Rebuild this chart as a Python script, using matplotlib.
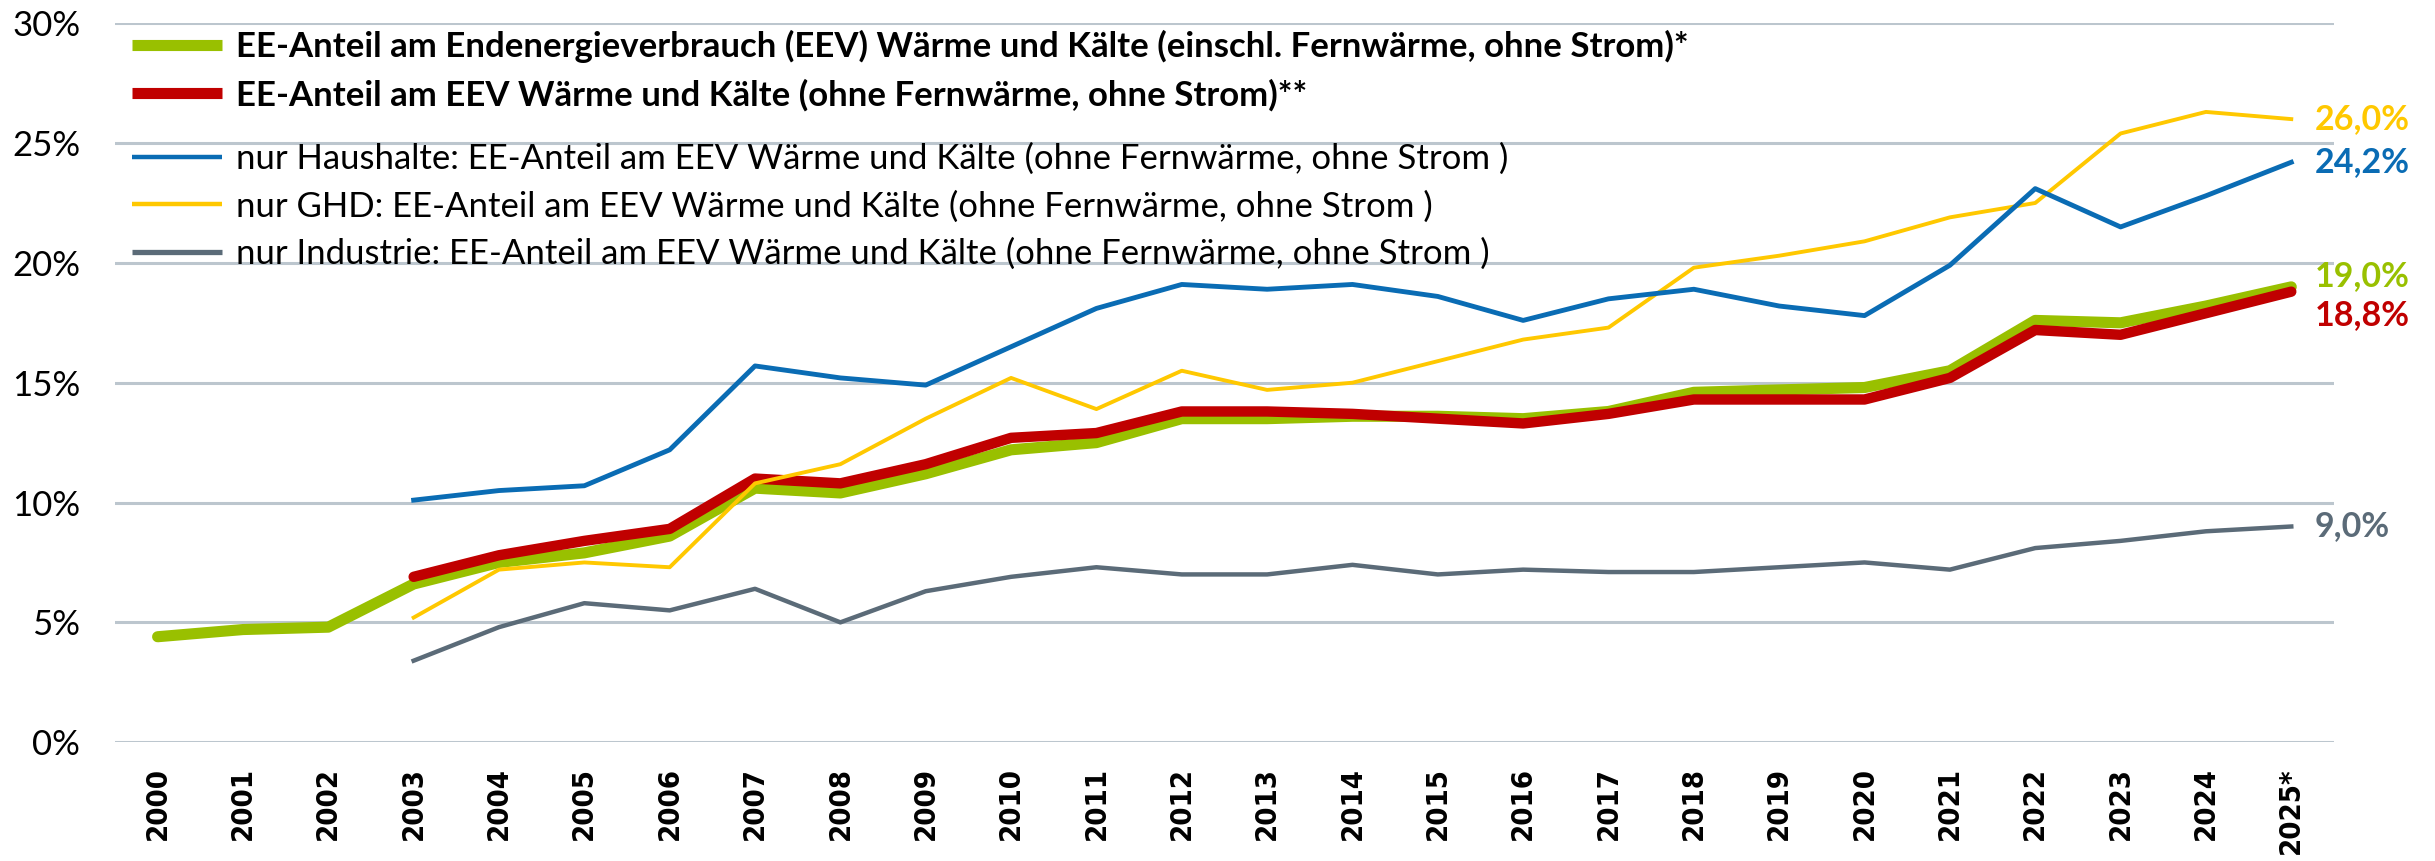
import numpy as np
import matplotlib
matplotlib.use("Agg")
import matplotlib.pyplot as plt

nan = np.nan

years = ['2000', '2001', '2002', '2003', '2004', '2005', '2006', '2007', '2008', '2009',
         '2010', '2011', '2012', '2013', '2014', '2015', '2016', '2017', '2018', '2019',
         '2020', '2021', '2022', '2023', '2024', '2025*']

# EE-Anteil in %
ee_gesamt = [4.4, 4.7, 4.8, 6.6, 7.5, 7.9, 8.6, 10.6, 10.4, 11.2,
             12.2, 12.5, 13.5, 13.5, 13.6, 13.6, 13.5, 13.8, 14.6, 14.7,
             14.8, 15.5, 17.6, 17.5, 18.2, 19.0]
ee_ohne_fw = [nan, nan, nan, 6.9, 7.8, 8.4, 8.9, 11.0, 10.8, 11.6,
              12.7, 12.9, 13.8, 13.8, 13.7, 13.5, 13.3, 13.7, 14.3, 14.3,
              14.3, 15.2, 17.2, 17.0, 17.9, 18.8]
haushalte = [nan, nan, nan, 10.1, 10.5, 10.7, 12.2, 15.7, 15.2, 14.9,
             16.5, 18.1, 19.1, 18.9, 19.1, 18.6, 17.6, 18.5, 18.9, 18.2,
             17.8, 19.9, 23.1, 21.5, 22.8, 24.2]
ghd = [nan, nan, nan, 5.2, 7.2, 7.5, 7.3, 10.8, 11.6, 13.5,
       15.2, 13.9, 15.5, 14.7, 15.0, 15.9, 16.8, 17.3, 19.8, 20.3,
       20.9, 21.9, 22.5, 25.4, 26.3, 26.0]
industrie = [nan, nan, nan, 3.4, 4.8, 5.8, 5.5, 6.4, 5.0, 6.3,
             6.9, 7.3, 7.0, 7.0, 7.4, 7.0, 7.2, 7.1, 7.1, 7.3,
             7.5, 7.2, 8.1, 8.4, 8.8, 9.0]

labels = ['EE-Anteil am Endenergieverbrauch (EEV) Wärme und Kälte (einschl. Fernwärme, ohne Strom)*',
          'EE-Anteil am EEV Wärme und Kälte (ohne Fernwärme, ohne Strom)**',
          'nur Haushalte: EE-Anteil am EEV Wärme und Kälte (ohne Fernwärme, ohne Strom )',
          'nur GHD: EE-Anteil am EEV Wärme und Kälte (ohne Fernwärme, ohne Strom )',
          'nur Industrie: EE-Anteil am EEV Wärme und Kälte (ohne Fernwärme, ohne Strom )']

c_green = '#99c000'
c_red = '#c00000'
c_blue = '#0a6cb4'
c_yellow = '#ffc800'
c_grey = '#5b6b78'
c_grid = '#bcc6ce'

font = 'Lato'

fig = plt.figure(figsize=(24.35, 8.61), dpi=100)
ax = fig.add_axes([0.0472, 0.138, 0.9113, 0.835])

x = np.arange(len(years))
l1, = ax.plot(x, ee_gesamt, color=c_green, lw=8, solid_capstyle='round', zorder=3)
l2, = ax.plot(x, ee_ohne_fw, color=c_red, lw=7.5, solid_capstyle='round', zorder=4)
l5, = ax.plot(x, industrie, color=c_grey, lw=3.2, zorder=5)
l4, = ax.plot(x, ghd, color=c_yellow, lw=2.8, zorder=6)
l3, = ax.plot(x, haushalte, color=c_blue, lw=3.5, zorder=7)

ax.set_xlim(-0.5, len(years) - 0.5)
ax.set_ylim(0, 30)
ax.set_yticks(range(0, 31, 5))
ax.set_yticklabels([f'{v}%' for v in range(0, 31, 5)], fontsize=25, family=font)
ax.set_xticks(x)
ax.set_xticklabels(years, rotation=90, fontsize=21, fontweight='bold',
                   family=['DejaVu Sans Condensed', 'DejaVu Sans'], fontstretch='condensed')
ax.tick_params(axis='both', length=0)
ax.tick_params(axis='y', pad=25)
ax.tick_params(axis='x', pad=18)
ax.grid(axis='y', color=c_grid, lw=2.2)
ax.set_axisbelow(True)
for s in ax.spines.values():
    s.set_visible(False)

# Endwerte rechts
end_labels = [(ee_gesamt, c_green, 8), (ee_ohne_fw, c_red, -17), (haushalte, c_blue, 0),
              (ghd, c_yellow, 0), (industrie, c_grey, 0)]
for series, col, dy in end_labels:
    v = series[-1]
    ax.annotate(f'{v:.1f}%'.replace('.', ','), xy=(x[-1], v), xytext=(17, dy),
                textcoords='offset points', va='center', ha='left', color=col,
                fontsize=24.5, fontweight='bold', family=font, annotation_clip=False)

# Legende in zwei Blöcken (fett / normal)
leg_kw = dict(loc='upper left', frameon=False, borderpad=0, borderaxespad=0,
              handlelength=2.6, handletextpad=0.4, prop={'family': font, 'size': 25})
leg1 = ax.legend([l1, l2], labels[:2], bbox_to_anchor=(0.0077, 0.991), labelspacing=0.46, **leg_kw)
for t in leg1.get_texts():
    t.set_fontweight('bold')
for h in leg1.legend_handles:
    h.set_linewidth(8)
    h.set_solid_capstyle('butt')
ax.add_artist(leg1)
leg2 = ax.legend([l3, l4, l5], labels[2:], bbox_to_anchor=(0.0077, 0.834), labelspacing=0.44, **leg_kw)
for h, w in zip(leg2.legend_handles, [3.2, 3.2, 3.8]):
    h.set_linewidth(w)
    h.set_solid_capstyle('butt')

fig.savefig('out.png', dpi=100, facecolor='white')
